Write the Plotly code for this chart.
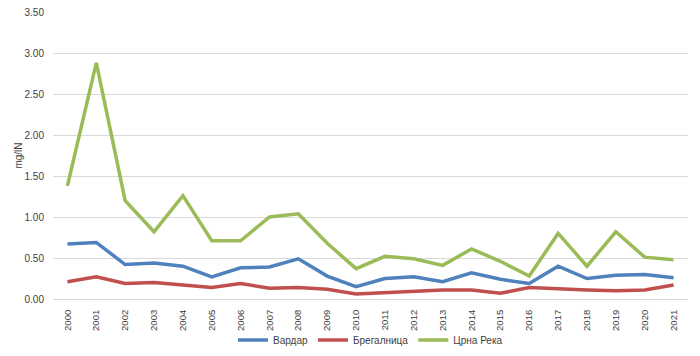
import plotly.graph_objects as go

years = [str(y) for y in range(2000, 2022)]
vardar = [0.67, 0.69, 0.42, 0.44, 0.40, 0.27, 0.38, 0.39, 0.49, 0.28, 0.15,
          0.25, 0.27, 0.21, 0.32, 0.24, 0.19, 0.40, 0.25, 0.29, 0.30, 0.26]
bregalnica = [0.21, 0.27, 0.19, 0.20, 0.17, 0.14, 0.19, 0.13, 0.14, 0.12, 0.06,
              0.08, 0.10, 0.11, 0.11, 0.07, 0.14, 0.12, 0.11, 0.10, 0.11, 0.17]
crna_reka = [1.38, 2.88, 1.20, 0.82, 1.26, 0.71, 0.71, 1.00, 1.04, 0.68, 0.37,
             0.52, 0.49, 0.41, 0.61, 0.46, 0.28, 0.80, 0.40, 0.82, 0.51, 0.48]
y_ticks = [0, 0.5, 1.0, 1.5, 2.0, 2.5, 3.0, 3.5]

fig = go.Figure()
fig.add_trace(go.Scatter(x=years, y=vardar, name="Вардар", mode="lines",
                         line=dict(color="#4F81BD", width=3.5)))
fig.add_trace(go.Scatter(x=years, y=bregalnica, name="Брегалница", mode="lines",
                         line=dict(color="#C0504D", width=3.5)))
fig.add_trace(go.Scatter(x=years, y=crna_reka, name="Црна Река", mode="lines",
                         line=dict(color="#9BBB59", width=3.5)))

fig.update_layout(
    width=700, height=356,
    margin=dict(l=53, r=12, t=12, b=57, autoexpand=False),
    plot_bgcolor="white", paper_bgcolor="white",
    font=dict(family="Liberation Sans, Arial, sans-serif", size=10, color="#404040"),
    showlegend=True,
    legend=dict(orientation="h", x=0.5, xanchor="center", yref="container",
                y=0.045, yanchor="middle", bgcolor="rgba(0,0,0,0)",
                font=dict(size=10, color="#404040"), traceorder="normal"),
)
fig.update_xaxes(type="category", range=[-0.5, 21.5], tickangle=-90, showgrid=False,
                 showline=True, linecolor="#D9D9D9", ticks="outside", ticklen=6,
                 tickcolor="rgba(0,0,0,0)", automargin=False,
                 tickfont=dict(size=9.5))
fig.update_yaxes(range=[0, 3.5], tickvals=y_ticks,
                 ticktext=[f"{v:.2f}" for v in y_ticks],
                 showgrid=True, gridcolor="#D9D9D9", gridwidth=1,
                 zeroline=False, showline=False, ticks="outside", ticklen=6,
                 tickcolor="rgba(0,0,0,0)", automargin=False,
                 title=dict(text="mg/lN", font=dict(size=10), standoff=0),
                 tickfont=dict(size=10))

fig.write_html("out.html", config={"displayModeBar": False},
               post_script="document.body.style.margin='0';document.body.style.overflow='hidden';")
